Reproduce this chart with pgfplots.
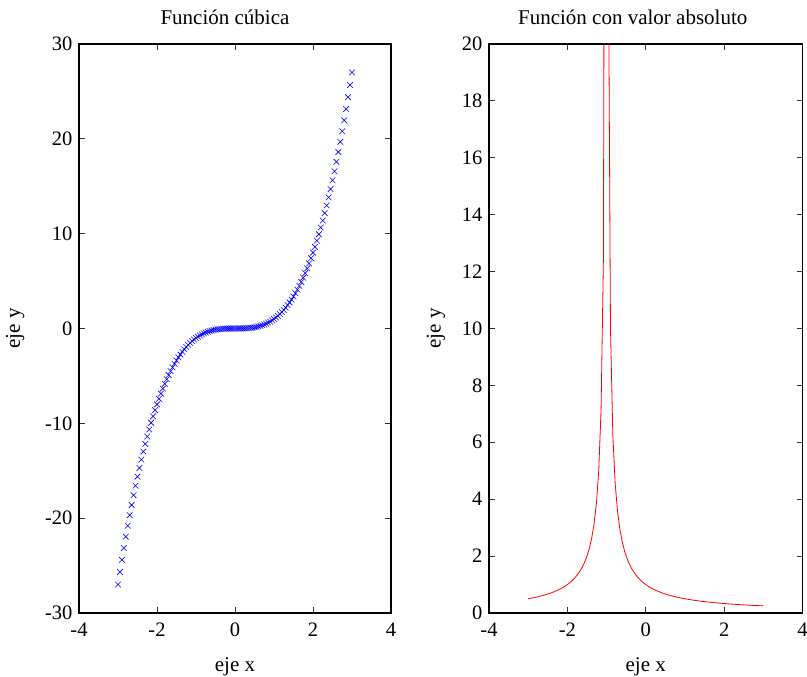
\documentclass[border=0pt]{standalone}
\usepackage{fontspec}
\setmainfont{Liberation Serif}
\usepackage{pgfplots}
\pgfplotsset{compat=1.18}
\begin{document}
\begin{tikzpicture}
\useasboundingbox (0,0) rectangle (807bp,677bp);
\pgfplotsset{
  every axis/.append style={
    scale only axis,
    anchor=south west,
    axis line style={line width=1.1bp},
    tick align=inside,
    major tick length=6bp,
    tick style={line width=0.9bp, black!80},
    /pgf/number format/assume math mode=true,
    tick label style={font=\fontsize{20.5bp}{24bp}\selectfont},
    label style={font=\fontsize{21bp}{24bp}\selectfont},
    title style={font=\fontsize{21bp}{24bp}\selectfont, at={(0.5,1)}, anchor=base, yshift=14bp},
    yticklabel style={xshift=-3bp},
    xticklabel style={yshift=-6bp},
    xlabel style={yshift=-14bp},
    xmin=-4, xmax=4,
    xtick={-4,-2,0,2,4},
    xlabel={eje x},
    ylabel={eje y},
  },
}
\begin{axis}[
  at={(79bp,64bp)},
  width=312bp, height=569bp,
  ymin=-30, ymax=30,
  ytick={-30,-20,-10,0,10,20,30},
  title={Función cúbica},
  title style={xshift=-10bp},
  ylabel style={yshift=14bp},
]
\addplot[only marks, mark=x, mark size=4bp, blue, mark options={line width=0.6bp}] coordinates {
(-3.00,-27) (-2.95,-25.672) (-2.90,-24.389) (-2.85,-23.149) (-2.80,-21.952) (-2.75,-20.797)
(-2.70,-19.683) (-2.65,-18.610) (-2.60,-17.576) (-2.55,-16.581) (-2.50,-15.625) (-2.45,-14.706)
(-2.40,-13.824) (-2.35,-12.978) (-2.30,-12.167) (-2.25,-11.391) (-2.20,-10.648) (-2.15,-9.938)
(-2.10,-9.261) (-2.05,-8.615) (-2.00,-8) (-1.95,-7.415) (-1.90,-6.859) (-1.85,-6.332)
(-1.80,-5.832) (-1.75,-5.359) (-1.70,-4.913) (-1.65,-4.492) (-1.60,-4.096) (-1.55,-3.724)
(-1.50,-3.375) (-1.45,-3.049) (-1.40,-2.744) (-1.35,-2.460) (-1.30,-2.197) (-1.25,-1.953)
(-1.20,-1.728) (-1.15,-1.521) (-1.10,-1.331) (-1.05,-1.158) (-1.00,-1) (-0.95,-0.857)
(-0.90,-0.729) (-0.85,-0.614) (-0.80,-0.512) (-0.75,-0.422) (-0.70,-0.343) (-0.65,-0.275)
(-0.60,-0.216) (-0.55,-0.166) (-0.50,-0.125) (-0.45,-0.091) (-0.40,-0.064) (-0.35,-0.043)
(-0.30,-0.027) (-0.25,-0.016) (-0.20,-0.008) (-0.15,-0.003) (-0.10,-0.001) (-0.05,-0.0001)
(0,0)
(0.05,0.0001) (0.10,0.001) (0.15,0.003) (0.20,0.008) (0.25,0.016) (0.30,0.027)
(0.35,0.043) (0.40,0.064) (0.45,0.091) (0.50,0.125) (0.55,0.166) (0.60,0.216)
(0.65,0.275) (0.70,0.343) (0.75,0.422) (0.80,0.512) (0.85,0.614) (0.90,0.729)
(0.95,0.857) (1.00,1) (1.05,1.158) (1.10,1.331) (1.15,1.521) (1.20,1.728)
(1.25,1.953) (1.30,2.197) (1.35,2.460) (1.40,2.744) (1.45,3.049) (1.50,3.375)
(1.55,3.724) (1.60,4.096) (1.65,4.492) (1.70,4.913) (1.75,5.359) (1.80,5.832)
(1.85,6.332) (1.90,6.859) (1.95,7.415) (2.00,8) (2.05,8.615) (2.10,9.261)
(2.15,9.938) (2.20,10.648) (2.25,11.391) (2.30,12.167) (2.35,12.978) (2.40,13.824)
(2.45,14.706) (2.50,15.625) (2.55,16.581) (2.60,17.576) (2.65,18.610) (2.70,19.683)
(2.75,20.797) (2.80,21.952) (2.85,23.149) (2.90,24.389) (2.95,25.672) (3.00,27)
};
\end{axis}
\begin{axis}[
  at={(489bp,64bp)},
  width=313.5bp, height=569bp,
  ymin=0, ymax=20,
  ytick={0,2,4,6,8,10,12,14,16,18,20},
  title={Función con valor absoluto},
  title style={xshift=-13bp},
  ylabel style={yshift=10bp},
]
\addplot[red, line width=0.8bp] coordinates {
(-3.00,0.5) (-2.94,0.5155) (-2.88,0.5319) (-2.82,0.5495) (-2.76,0.5682) (-2.70,0.5882)
(-2.64,0.6098) (-2.58,0.6329) (-2.52,0.6579) (-2.46,0.6849) (-2.40,0.7143) (-2.34,0.7463)
(-2.28,0.7813) (-2.22,0.8197) (-2.16,0.8621) (-2.10,0.9091) (-2.04,0.9615) (-1.98,1.0204)
(-1.92,1.0870) (-1.86,1.1628) (-1.80,1.25) (-1.74,1.3514) (-1.68,1.4706) (-1.62,1.6129)
(-1.56,1.7857) (-1.50,2) (-1.44,2.2727) (-1.38,2.6316) (-1.32,3.125) (-1.26,3.8462)
(-1.20,5) (-1.14,7.1429) (-1.08,12.5) (-1.02,50) (-0.96,25) (-0.90,10)
(-0.84,6.25) (-0.78,4.5455) (-0.72,3.5714) (-0.66,2.9412) (-0.60,2.5) (-0.54,2.1739)
(-0.48,1.9231) (-0.42,1.7241) (-0.36,1.5625) (-0.30,1.4286) (-0.24,1.3158) (-0.18,1.2195)
(-0.12,1.1364) (-0.06,1.0638) (0.00,1) (0.06,0.9434) (0.12,0.8929) (0.18,0.8475)
(0.24,0.8065) (0.30,0.7692) (0.36,0.7353) (0.42,0.7042) (0.48,0.6757) (0.54,0.6494)
(0.60,0.625) (0.66,0.6024) (0.72,0.5814) (0.78,0.5618) (0.84,0.5435) (0.90,0.5263)
(0.96,0.5102) (1.02,0.4950) (1.08,0.4808) (1.14,0.4673) (1.20,0.4545) (1.26,0.4425)
(1.32,0.4310) (1.38,0.4202) (1.44,0.4098) (1.50,0.4) (1.56,0.3906) (1.62,0.3817)
(1.68,0.3731) (1.74,0.3650) (1.80,0.3571) (1.86,0.3497) (1.92,0.3425) (1.98,0.3356)
(2.04,0.3289) (2.10,0.3226) (2.16,0.3165) (2.22,0.3106) (2.28,0.3049) (2.34,0.2994)
(2.40,0.2941) (2.46,0.2890) (2.52,0.2841) (2.58,0.2793) (2.64,0.2747) (2.70,0.2703)
(2.76,0.2660) (2.82,0.2618) (2.88,0.2577) (2.94,0.2538) (3.00,0.25)
};
\end{axis}
\end{tikzpicture}
\end{document}
